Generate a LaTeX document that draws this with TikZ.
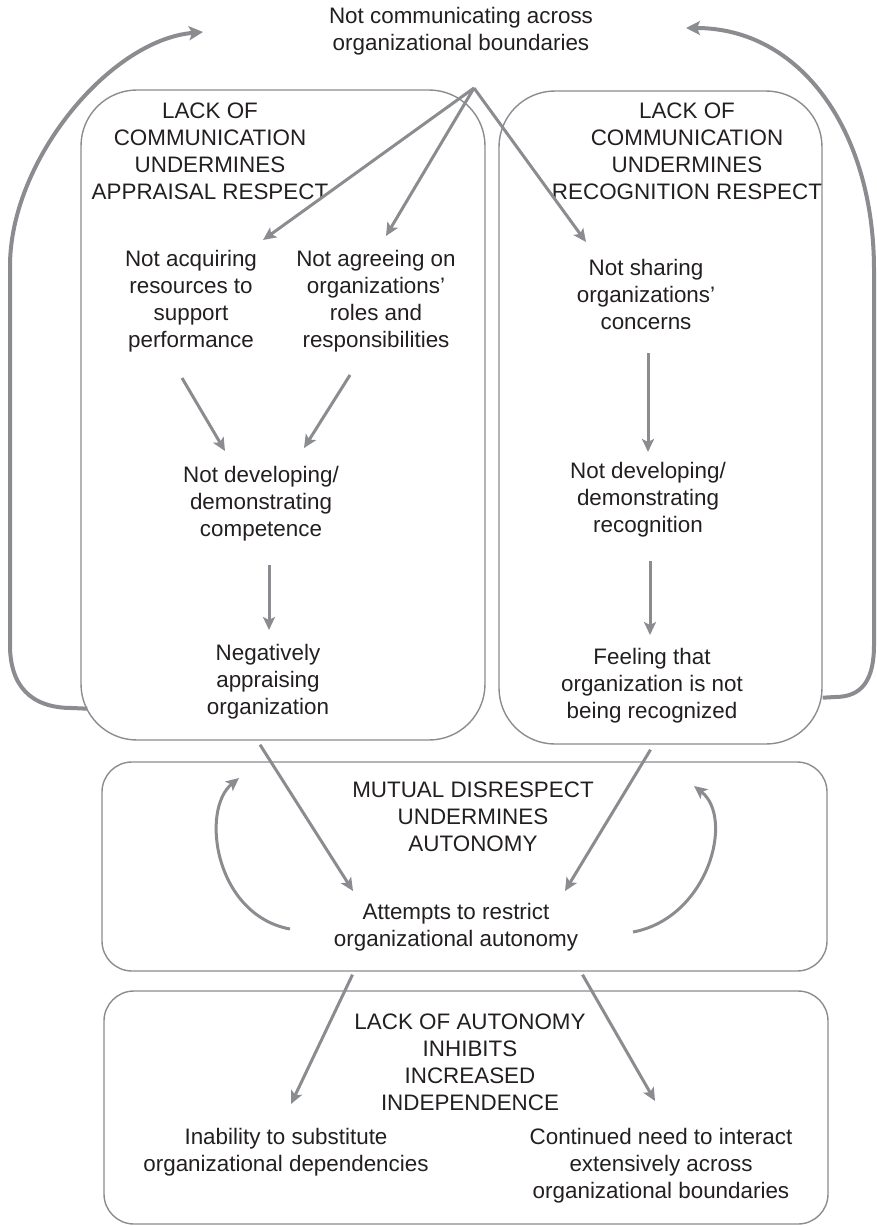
\documentclass[tikz,border=0pt]{standalone}
\usepackage{fontspec}
\setmainfont{Liberation Sans}
\usetikzlibrary{arrows.meta,calc}
\definecolor{linegray}{HTML}{8A8C8F}
\definecolor{txt}{HTML}{231F20}
\begin{document}
\begin{tikzpicture}[x=1pt,y=-1pt,
  lbl/.style={align=center, text=txt, font=\fontsize{22.4}{27}\selectfont, inner sep=2pt},
  grp/.style={draw=linegray, line width=1.4pt, rounded corners=#1, inner sep=0pt},
  conn/.style={draw=linegray, line width=3pt, -{Stealth[length=13pt,width=12pt,inset=3pt]}},
  bigloop/.style={draw=linegray, line width=4pt, -{Stealth[length=14pt,width=14pt,inset=3pt]}},
]
\useasboundingbox (0,0) rectangle (877,1226);

% group boxes
\node[grp=56pt, minimum width=404pt, minimum height=650pt] (lbox) at (283,415) {};
\node[grp=56pt, minimum width=323pt, minimum height=653pt] (rbox) at (660.5,417.5) {};
\node[grp=30pt, minimum width=725pt, minimum height=209pt] (mbox) at (464.5,866.5) {};
\node[grp=30pt, minimum width=724pt, minimum height=233pt] (bbox) at (466,1107.5) {};

% texts
\node[lbl] (title) at (461,31) {Not communicating across\\organizational boundaries};
\node[lbl] (ltitle) at (210,151) {LACK OF\\COMMUNICATION\\UNDERMINES\\APPRAISAL RESPECT};
\node[lbl] (rtitle) at (687,151) {LACK OF\\COMMUNICATION\\UNDERMINES\\RECOGNITION RESPECT};
\node[lbl] (acq) at (191,301) {Not acquiring\\resources to\\support\\performance};
\node[lbl] (agr) at (376,301) {Not agreeing on\\organizations’\\roles and\\responsibilities};
\node[lbl] (share) at (646,294) {Not sharing\\organizations’\\concerns};
\node[lbl] (devc) at (261,504) {Not developing/\\demonstrating\\competence};
\node[lbl] (neg) at (268,682) {Negatively\\appraising\\organization};
\node[lbl] (devr) at (648,500) {Not developing/\\demonstrating\\recognition};
\node[lbl] (feel) at (652,686) {Feeling that\\organization is not\\being recognized};
\node[lbl] (mutual) at (473,817) {MUTUAL DISRESPECT\\UNDERMINES\\AUTONOMY};
\node[lbl] (attempts) at (456,927) {Attempts to restrict\\organizational autonomy};
\node[lbl] (lackaut) at (470,1062) {LACK OF AUTONOMY\\INHIBITS\\INCREASED\\INDEPENDENCE};
\node[lbl] (inab) at (286,1152) {Inability to substitute\\organizational dependencies};
\node[lbl] (cont) at (661,1166) {Continued need to interact\\extensively across\\organizational boundaries};

% connectors
\coordinate (apex) at (474,88);
\draw[conn] (apex) -- ($(acq)+(72,-61)$);
\draw[conn] (apex) -- ($(agr)+(10,-65)$);
\draw[conn] (apex) -- ($(share)+(-60,-52)$);

\draw[conn] ($(acq)+(-9,77)$) -- ($(devc)+(-36,-53)$);
\draw[conn] ($(agr)+(-26,74)$) -- ($(devc)+(43,-56)$);
\draw[conn] ($(devc)+(8,61)$) -- ($(neg)+(1,-52)$);
\draw[conn] ($(share)+(2,59)$) -- ($(devr)+(0,-48)$);
\draw[conn] ($(devr)+(2,61)$) -- ($(feel)+(-2,-51)$);

\draw[conn] ($(lbox.south)+(-23,4)$) -- ($(attempts)+(-103,-36)$);
\draw[conn] ($(rbox.south)+(-10,5)$) -- ($(attempts)+(109,-36)$);

\draw[conn] ($(mbox.south)+(-112,3)$) -- ($(inab)+(5,-48)$);
\draw[conn] ($(mbox.south)+(118,3)$) -- ($(cont)+(-6,-65)$);

% small loops in the middle box
\draw[conn] ($(attempts)+(-166,2)$) .. controls +(-75,-14) and +(-39,32) .. ($(mutual)+(-234,-39)$);
\draw[conn] ($(attempts)+(177,5)$) .. controls +(75,-14) and +(41,32) .. ($(mutual)+(221,-31)$);

% big feedback loops
\draw[bigloop] ($(lbox.south west)+(7,-32)$) -- (72,708)
  .. controls (30,708) and (10,685) .. (10,645) -- (10,266)
  .. controls (10,160) and (110,40) .. ($(title)+(-258,1)$);
\draw[bigloop] ($(rbox.south east)+(0,-47)$) -- (835,697)
  .. controls (862,697) and (874,680) .. (874,645) -- (874,270)
  .. controls (874,130) and (800,28) .. ($(title)+(225,-3)$);
\end{tikzpicture}
\end{document}
